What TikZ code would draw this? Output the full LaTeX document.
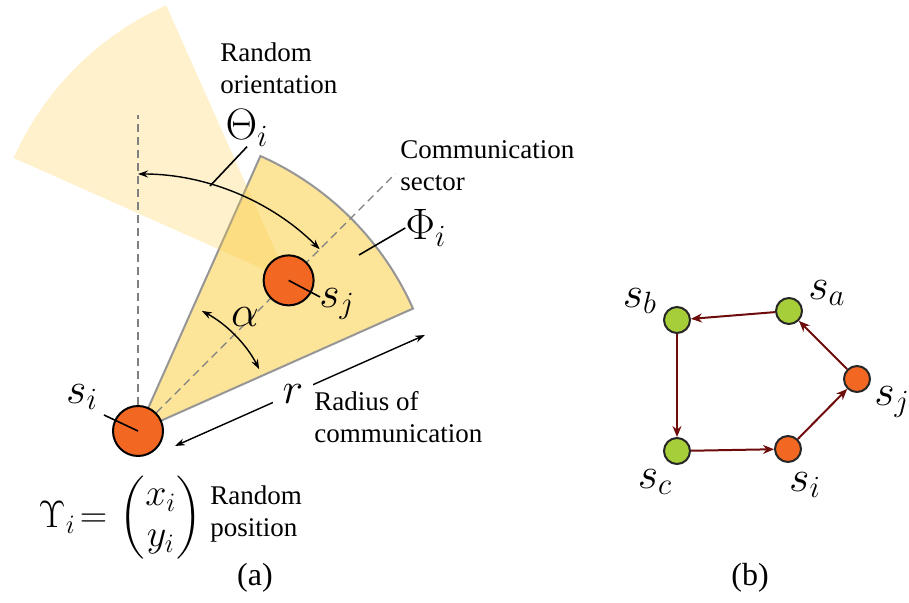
\RequirePackage{fix-cm}
\documentclass[tikz,border=0pt]{standalone}
\usepackage{amsmath}
\usepackage[no-math]{fontspec}
\setmainfont{Liberation Serif}
\usepackage{xcolor}
\usetikzlibrary{arrows.meta, positioning, calc}

\definecolor{dotorange}{RGB}{242,103,34}
\definecolor{dotgreen}{RGB}{166,206,57}
\definecolor{edgered}{RGB}{110,12,12}
\definecolor{sectfill}{RGB}{250,205,70}
\definecolor{sectline}{RGB}{150,150,150}

\begin{document}
\begin{tikzpicture}[x=0.5pt, y=0.5pt,
        txt/.style={font=\fontsize{13.5}{16}\selectfont, align=left, inner sep=0pt},
        lbl/.style={font=\fontsize{22}{26}\selectfont, inner sep=0pt},
        dot/.style={circle, draw=black, line width=1pt, fill=dotorange, minimum size=25pt, inner sep=0pt},
        gdot/.style={circle, draw=black!85, line width=1pt, minimum size=13pt, inner sep=0pt},
        edge/.style={draw=edgered, line width=1pt, -{Stealth[length=5.5pt, width=4.5pt]}},
        guide/.style={draw=gray, line width=0.7pt, dash pattern=on 4pt off 2.5pt},
        dim/.style={line width=0.7pt, {Stealth[length=5pt, width=3.5pt]}-{Stealth[length=5pt, width=3.5pt]}}]
    \useasboundingbox (0,0) rectangle (909,603);

    % (a) sector of s_i
    \coordinate (o) at (138,172);
    \path (o) ++(45:213) coordinate (cj);
    \filldraw[fill=sectfill, fill opacity=0.55, draw=sectline, line width=1pt]
        (o) -- ++(24:301) arc[start angle=24, end angle=66, radius=301] -- cycle;
    \fill[sectfill, opacity=0.28]
        (cj) -- ++(114:301) arc[start angle=114, end angle=156, radius=301] -- cycle;

    \draw[guide] (o) -- ++(90:316);
    \draw[guide] (o) -- ++(45:364);

    \draw[dim] (o) ++(90:257) arc[start angle=90, end angle=45, radius=257];
    \draw[dim] (o) ++(62:136) arc[start angle=62, end angle=27, radius=136];
    \node[lbl] (alpha) at (245,286) {$\alpha$};

    \coordinate (ra) at (175,157);
    \coordinate (rb) at (425,268);
    \draw[dim] (ra) -- (rb) node[pos=0.472, lbl, fill=white, inner xsep=5pt, inner ysep=2pt] (r) {$r$};

    \node[dot] (si) at (o) {};
    \node[dot] (sj) at (cj) {};

    % labels and leaders
    \node[lbl] (theta) at (247,475) {$\Theta_i$};
    \coordinate (thetatip) at (210,417);
    \draw[line width=0.8pt] (theta.south) -- (thetatip);

    \node[lbl] (phi) at (426,375) {$\Phi_i$};
    \coordinate (phitip) at (359,348);
    \draw[line width=0.8pt] (phitip) -- (phi.west);

    \node[lbl] (silbl) at (82,206) {$s_i$};
    \coordinate (silead) at (104,188);
    \draw[line width=0.8pt] (silead) -- (si.center);

    \node[lbl] (sjlbl) at (337,299) {$s_j$};
    \coordinate (sjlead) at (320,306);
    \draw[line width=0.8pt] (sj.center) -- (sjlead);

    \node[txt, anchor=north west] (orient) at (220,561) {Random\\orientation};
    \node[txt, anchor=north west] (sector) at (400,463) {Communication\\sector};
    \node[txt, anchor=north west] (radius) at (314,212) {Radius of\\communication};
    \node[txt, anchor=north west] (pos) at (210,118) {Random\\position};
    \node[font=\fontsize{19}{20.5}\selectfont, inner sep=0pt, anchor=west] (ups) at (38,85)
        {$\Upsilon_i\mkern2mu{=}\mkern3mu\begin{pmatrix}x_i\\ y_i\end{pmatrix}$};

    \node[font=\fontsize{16}{18}\selectfont] (capa) at (255,25) {(a)};
    \node[font=\fontsize{16}{18}\selectfont] (capb) at (750,25) {(b)};

    % (b) graph
    \node[gdot, fill=dotgreen] (na) at (789,292) {};
    \node[gdot, fill=dotgreen] (nb) at (677,283) {};
    \node[gdot, fill=dotgreen] (nc) at (677,152) {};
    \node[gdot, fill=dotorange] (ni) at (788,154) {};
    \node[gdot, fill=dotorange] (nj) at (857,224) {};

    \draw[edge] (na) -- (nb);
    \draw[edge] (nb) -- (nc);
    \draw[edge] (nc) -- (ni);
    \draw[edge] (ni) -- (nj);
    \draw[edge] (nj) -- (na);

    \node[lbl] (la) at (827,310) {$s_a$};
    \node[lbl] (lb) at (640,302) {$s_b$};
    \node[lbl] (lc) at (655,121) {$s_c$};
    \node[lbl] (li) at (805,118) {$s_i$};
    \node[lbl] (lj) at (892,201) {$s_j$};
\end{tikzpicture}
\end{document}
